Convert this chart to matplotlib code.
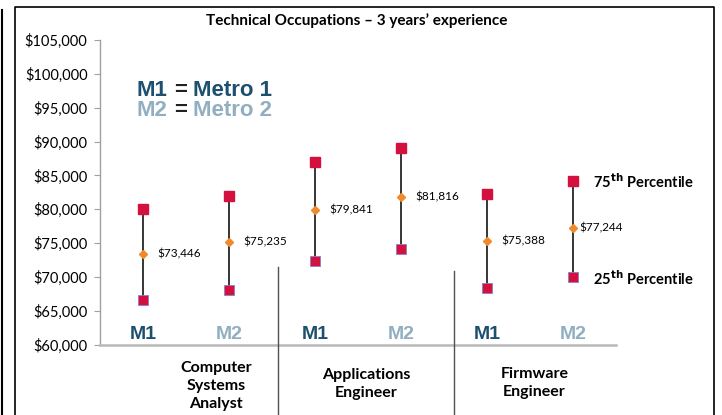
import matplotlib
matplotlib.use("Agg")
import matplotlib.pyplot as plt
from matplotlib.lines import Line2D
import matplotlib.transforms as mtrans

occupations = ["Computer\nSystems\nAnalyst", "Applications\nEngineer", "Firmware\nEngineer"]
metros = ["M1", "M2", "M1", "M2", "M1", "M2"]
p25 = [66600, 68100, 72400, 74200, 68300, 70000]
median = [73446, 75235, 79841, 81816, 75388, 77244]
p75 = [80000, 82000, 87000, 89100, 82200, 84200]
yticks = list(range(60000, 105001, 5000))

plt.rcParams['font.family'] = ['Lato', 'DejaVu Sans']

W, H = 722, 415
fig = plt.figure(figsize=(W/100, H/100), dpi=100)
ax = fig.add_axes([100/W, (H-344.7)/H, 516/W, (344.7-40)/H])

C_RED = "#D4103E"
C_ORANGE = "#F08A2C"
C_M1 = "#1D4F6E"
C_M2 = "#90AFC0"

xs = list(range(len(metros)))
for x, lo, md, hi in zip(xs, p25, median, p75):
    ax.plot([x, x], [lo, hi], color="black", lw=1.1, zorder=2)
    ax.plot([x], [hi], marker="s", ms=7.5, color=C_RED, mec=C_RED, zorder=3)
    ax.plot([x], [lo], marker="s", ms=7.5, color=C_RED, mec="#8A80C8", mew=0.6, zorder=3)
    ax.plot([x], [md], marker="D", ms=4.5, color=C_ORANGE, mec=C_ORANGE, zorder=4)

offsets = [0.17, 0.17, 0.17, 0.17, 0.17, 0.07]
for x, md, off in zip(xs, median, offsets):
    ax.text(x + off, md, f"${md:,.0f}", fontsize=8.5, va="center", ha="left", color="black")

for x, m in zip(xs, metros):
    ax.text(x, 61500, m, fontsize=14, fontweight="bold", ha="center", va="center",
            color=C_M1 if m == "M1" else C_M2, family="Liberation Sans")

ax.set_xlim(-0.5, len(metros) - 0.5)
ax.set_ylim(60000, 105000)
ax.set_yticks(yticks)
ax.set_yticklabels([f"${v:,.0f}" for v in yticks], fontsize=10.5)
ax.set_xticks([])
ax.tick_params(axis="y", length=4, color="#A0A0A0", direction="out", pad=5)
for s in ["top", "right"]:
    ax.spines[s].set_visible(False)
ax.spines["left"].set_color("#A0A0A0")
ax.spines["left"].set_linewidth(1.0)
ax.spines["bottom"].set_color("#B8B8B8")
ax.spines["bottom"].set_linewidth(1.8)

# category labels
cat_x = [0.85, 2.6, 4.55]
cat_y = [-0.052, -0.075, -0.072]
for cx, cy, name in zip(cat_x, cat_y, occupations):
    ax.text(cx, cy, name, transform=mtrans.blended_transform_factory(ax.transData, ax.transAxes),
            fontsize=11.5, fontweight="bold", ha="center", va="top", linespacing=1.4)

# separators (figure pixel coordinates)
for px, top in [(278, 267), (453.7, 271)]:
    fig.add_artist(Line2D([px/W, px/W], [0, (H-top)/H], color="#505050", lw=1.0, transform=fig.transFigure))

# frame
fig.add_artist(Line2D([15/W, 15/W, 714/W, 714/W], [0, (H-7)/H, (H-7)/H, 0], color="black", lw=1.2, transform=fig.transFigure))
fig.add_artist(Line2D([2/W, 2/W], [0, (H-10)/H], color="black", lw=1.5, transform=fig.transFigure))

# title
fig.text(357/W, (H-21)/H, "Technical Occupations \u2013 3 years\u2019 experience", fontsize=11,
         fontweight="bold", ha="center", va="center")

# legend text
for y_px, lab, name, col in [(91, "M1", "Metro 1", C_M1), (110, "M2", "Metro 2", C_M2)]:
    fig.text(137/W, (H-y_px)/H, lab, fontsize=16, fontweight="bold", color=col,
             va="center", ha="left", family="Liberation Sans")
    fig.text(174/W, (H-y_px)/H, "=", fontsize=16, fontweight="bold", color="#222222",
             va="center", ha="left", family="Liberation Sans")
    fig.text(193/W, (H-y_px)/H, name, fontsize=16, fontweight="bold", color=col,
             va="center", ha="left", family="Liberation Sans")

# percentile annotations
fig.text(593/W, (H-182)/H, r"75$^{\mathbf{th}}$ Percentile", fontsize=10.5, fontweight="bold", va="center", ha="left")
fig.text(593/W, (H-279)/H, r"25$^{\mathbf{th}}$ Percentile", fontsize=10.5, fontweight="bold", va="center", ha="left")

fig.savefig("out.png", dpi=100)
